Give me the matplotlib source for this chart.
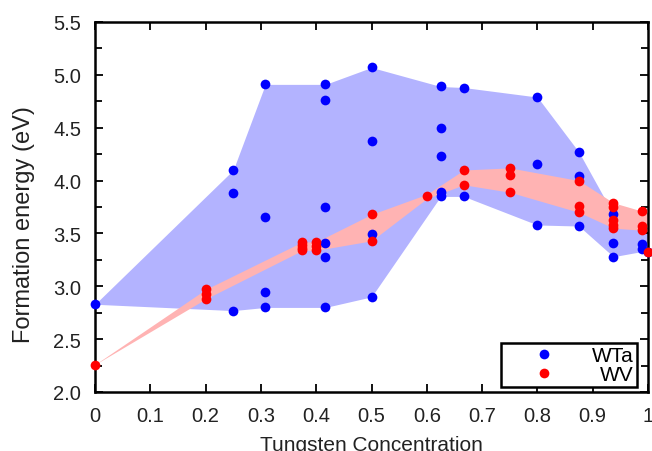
import numpy as np
import matplotlib
matplotlib.use("Agg")
import matplotlib.pyplot as plt

plt.rcParams['font.family'] = ['Liberation Sans', 'DejaVu Sans']

# WTa (blue) points
wta_x = [0.0,
         0.25, 0.25, 0.25,
         0.308, 0.308, 0.308, 0.308,
         0.4167, 0.4167, 0.4167, 0.4167, 0.4167, 0.4167,
         0.5, 0.5, 0.5, 0.5,
         0.625, 0.625, 0.625, 0.625, 0.625,
         0.667, 0.667,
         0.8, 0.8, 0.8,
         0.875, 0.875, 0.875,
         0.9375, 0.9375, 0.9375,
         0.99, 0.99, 1.0]
wta_y = [2.83,
         4.10, 3.88, 2.77,
         4.91, 3.66, 2.95, 2.80,
         4.91, 4.76, 3.75, 3.41, 3.28, 2.80,
         5.07, 4.37, 3.49, 2.90,
         4.89, 4.50, 4.23, 3.89, 3.85,
         4.88, 3.85,
         4.79, 4.16, 3.58,
         4.27, 4.04, 3.57,
         3.68, 3.41, 3.28,
         3.40, 3.35, 3.32]

# WV (red) points
wv_x = [0.0,
        0.2, 0.2, 0.2,
        0.375, 0.375, 0.375, 0.375,
        0.4, 0.4, 0.4,
        0.5, 0.5,
        0.6,
        0.667, 0.667,
        0.75, 0.75, 0.75,
        0.875, 0.875, 0.875,
        0.9375, 0.9375, 0.9375, 0.9375, 0.9375,
        0.99, 0.99, 0.99,
        1.0]
wv_y = [2.26,
        2.97, 2.93, 2.88,
        3.42, 3.39, 3.36, 3.34,
        3.42, 3.38, 3.34,
        3.68, 3.43,
        3.85,
        4.10, 3.96,
        4.12, 4.05, 3.89,
        4.00, 3.76, 3.70,
        3.79, 3.75, 3.63, 3.58, 3.55,
        3.71, 3.57, 3.53,
        3.32]

# shaded ranges
wta_band_x = [0.0, 0.25, 0.308, 0.4167, 0.5, 0.625, 0.667, 0.8, 0.875, 0.9375, 0.99, 1.0]
wta_band_hi = [2.83, 4.10, 4.91, 4.91, 5.07, 4.89, 4.88, 4.79, 4.27, 3.68, 3.55, 3.50]
wta_band_lo = [2.83, 2.77, 2.80, 2.80, 2.90, 3.85, 3.85, 3.58, 3.57, 3.28, 3.33, 3.32]

wv_band_x = [0.0, 0.2, 0.375, 0.4, 0.5, 0.6, 0.667, 0.75, 0.875, 0.9375, 0.99, 1.0]
wv_band_hi = [2.26, 2.97, 3.42, 3.42, 3.68, 3.87, 4.10, 4.12, 4.00, 3.79, 3.71, 3.70]
wv_band_lo = [2.26, 2.88, 3.34, 3.34, 3.43, 3.83, 3.96, 3.89, 3.70, 3.55, 3.53, 3.52]

xticks = np.arange(0, 1.01, 0.1)
xticklabels = ['0', '0.1', '0.2', '0.3', '0.4', '0.5', '0.6', '0.7', '0.8', '0.9', '1']
yticks = np.arange(2.0, 5.51, 0.5)

fig = plt.figure(figsize=(6.52, 4.52), dpi=100)
ax = fig.add_axes([95/652, 59/452, 553/652, 370/452])

ax.fill_between(wta_band_x, wta_band_lo, wta_band_hi, color='#b3b3ff', lw=0, zorder=1)
ax.fill_between(wv_band_x, wv_band_lo, wv_band_hi, color='#ffb3b3', lw=0, zorder=2)

ax.plot(wta_x, wta_y, 'o', color='#0000ff', ms=7, mew=0, label='WTa', clip_on=False, zorder=3)
ax.plot(wv_x, wv_y, 'o', color='#ff0000', ms=7, mew=0, label='WV', clip_on=False, zorder=4)

ax.set_xlim(0, 1)
ax.set_ylim(2.0, 5.5)
ax.set_xticks(xticks)
ax.set_xticklabels(xticklabels)
ax.set_yticks(yticks)
ax.set_yticklabels(['%.1f' % v for v in yticks])
ax.set_yticks(np.arange(2.0, 5.51, 0.25), minor=True)
ax.tick_params(which='both', direction='in', top=True, right=True, width=1.3,
               labelsize=14.5, pad=10, colors='black', labelcolor='#222222')
ax.tick_params(which='major', length=6)
ax.tick_params(which='minor', length=5)
for s in ax.spines.values():
    s.set_linewidth(1.8)

ax.set_xlabel('Tungsten Concentration', fontsize=15, labelpad=7, color='#222222')
ax.set_ylabel('Formation energy (eV)', fontsize=17, color='#222222')
ax.yaxis.set_label_coords(-0.108, 0.454)

leg = ax.legend(loc='lower right', bbox_to_anchor=(0.98, 0.0135), borderaxespad=0,
                fontsize=15, frameon=True, fancybox=False, framealpha=1,
                edgecolor='black', handlelength=3.8, handletextpad=0.43,
                borderpad=0.15, labelspacing=0.0)
leg.get_frame().set_linewidth(1.8)

# right-align legend text like the original: shift the narrower labels
fig.canvas.draw()
renderer = fig.canvas.get_renderer()
widths = [t.get_window_extent(renderer).width for t in leg.get_texts()]
for t, w in zip(leg.get_texts(), widths):
    t.set_position((max(widths) - w, 0))

fig.savefig('out.png', dpi=100)
